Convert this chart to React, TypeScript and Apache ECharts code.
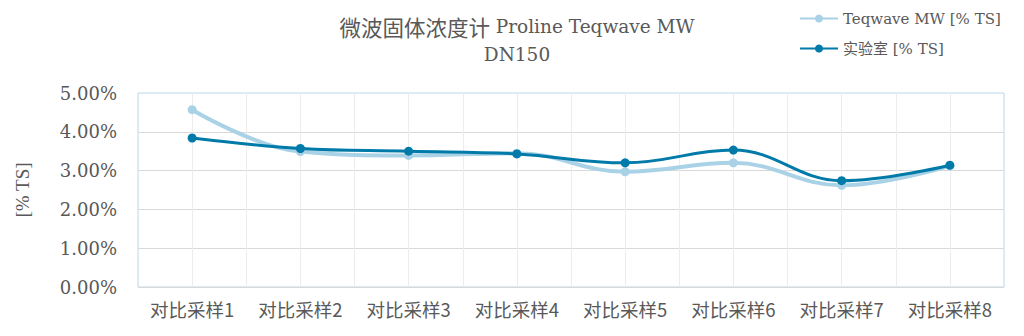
import React, { useEffect, useRef } from "react";
import * as echarts from "echarts";

const categories = ["对比采样1", "对比采样2", "对比采样3", "对比采样4", "对比采样5", "对比采样6", "对比采样7", "对比采样8"];
const teqwave = [4.57, 3.49, 3.39, 3.45, 2.97, 3.2, 2.62, 3.12];
const lab = [3.84, 3.57, 3.5, 3.43, 3.2, 3.53, 2.74, 3.14];
const seriesNames = ["Teqwave MW [% TS]", "实验室 [% TS]"];
const titleCn = "微波固体浓度计";
const titleEn = "Proline Teqwave MW";
const titleSub = "DN150";
const yAxisName = "[% TS]";

const serif = "'DejaVu Serif', 'Noto Sans CJK SC', serif";
const serif2 = "'Liberation Serif', 'Noto Sans CJK SC', serif";
const cjk = "'Noto Sans CJK SC', sans-serif";

export default function App() {
  const ref = useRef<HTMLDivElement>(null);
  useEffect(() => {
    if (!ref.current) return;
    const chart = echarts.init(ref.current, null, { renderer: "svg" });
    chart.setOption({
      animation: false,
      backgroundColor: "#ffffff",
      title: {
        text: `{c|${titleCn}} {e|${titleEn}}\n{e|${titleSub}}`,
        left: 512,
        textAlign: "center",
        top: 7,
        textStyle: {
          fontFamily: serif,
          fontSize: 18,
          fontWeight: "normal",
          color: "#595959",
          lineHeight: 28,
          rich: {
            c: { fontFamily: cjk, fontSize: 21.5, color: "#595959", lineHeight: 28 },
            e: { fontFamily: serif, fontSize: 18.5, color: "#595959", lineHeight: 28 },
          },
        },
      },
      legend: {
        orient: "vertical",
        left: 794,
        top: 6,
        itemWidth: 38,
        itemHeight: 10,
        itemGap: 15,
        textStyle: { fontFamily: serif, fontSize: 15, color: "#595959" },
        data: seriesNames,
      },
      grid: {
        left: 138,
        right: 20,
        top: 93,
        bottom: 49,
        show: true,
        borderColor: "#b9d8e8",
        borderWidth: 1,
      },
      xAxis: [
        {
          type: "category",
          data: categories,
          boundaryGap: true,
          axisLine: { show: false },
          axisTick: { show: false },
          splitLine: { show: false },
          axisLabel: { interval: 0, hideOverlap: false, fontFamily: cjk, fontSize: 18.5, color: "#595959", margin: 13 },
        },
        {
          type: "value",
          min: 0,
          max: 16,
          interval: 1,
          position: "top",
          axisLine: { show: false },
          axisTick: { show: false },
          axisLabel: { show: false },
          splitLine: { show: true, showMinLine: false, showMaxLine: false, lineStyle: { color: "#ececec", width: 1 } },
        },
      ],
      yAxis: [
        {
          type: "value",
          min: 0,
          max: 5,
          interval: 1,
          name: yAxisName,
          nameLocation: "middle",
          nameGap: 106,
          nameRotate: 90,
          nameTextStyle: { fontFamily: serif2, fontSize: 19, color: "#595959" },
          axisLine: { show: false },
          axisTick: { show: false },
          axisLabel: {
            fontFamily: serif,
            fontSize: 18,
            color: "#595959",
            margin: 21,
            formatter: (v: number) => v.toFixed(2) + "%",
          },
          splitLine: { show: true, showMaxLine: false, lineStyle: { color: "#d9d9d9", width: 1 } },
        },
      ],
      series: [
        {
          name: seriesNames[0],
          type: "line",
          xAxisIndex: 0,
          data: teqwave,
          smooth: 0.4,
          symbol: "circle",
          symbolSize: 9,
          itemStyle: { color: "#aad2e6" },
          lineStyle: { color: "#aad2e6", width: 4 },
          z: 2,
        },
        {
          name: seriesNames[1],
          type: "line",
          xAxisIndex: 0,
          data: lab,
          smooth: 0.4,
          symbol: "circle",
          symbolSize: 9,
          itemStyle: { color: "#007aa8" },
          lineStyle: { color: "#007aa8", width: 3 },
          z: 3,
        },
      ],
    });
    return () => chart.dispose();
  }, []);
  return <div ref={ref} style={{ position: "fixed", left: 0, top: 0, width: 1024, height: 336 }} />;
}
